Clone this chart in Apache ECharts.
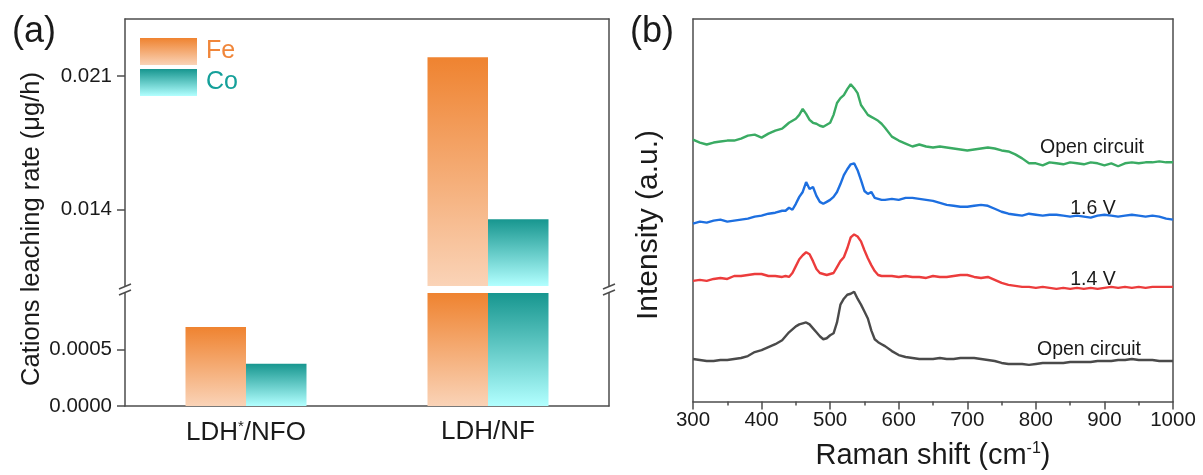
<!DOCTYPE html>
<html>
<head>
<meta charset="utf-8">
<script src="https://cdn.jsdelivr.net/npm/echarts@6/dist/echarts.min.js"></script>
<style>
html, body { margin: 0; padding: 0; background: #fff; }
#chart { width: 1203px; height: 475px; }
</style>
</head>
<body>
<div id="chart"></div>
<script>
// (a) leaching rate
var categories = ['LDH*/NFO', 'LDH/NF'];
var feRate = [0.0007, 0.022];
var coRate = [0.000375, 0.0135];
var upperTicks = [0.014, 0.021];
var lowerTicks = [0, 0.0005];

// (b) Raman spectra, intensity in arbitrary offset units
var ramanShift = [300, 310, 320, 330, 340, 350, 360, 370, 380, 390, 400, 410, 420, 430,
  435, 440, 445, 450, 455, 460, 465, 470, 475, 480, 485, 490, 495, 500, 505, 510, 515, 520,
  525, 530, 535, 540, 545, 550, 555, 560, 565, 570, 575, 580,
  590, 600, 610, 620, 630, 640, 650, 660, 670, 680, 690, 700, 710, 720, 730, 740, 750, 760,
  770, 780, 790, 800, 810, 820, 830, 840, 850, 860, 870, 880, 890, 900, 910, 920, 930, 940,
  950, 960, 970, 980, 990, 1000];
var ocAfter = [265, 262, 260, 262, 263, 264, 264, 266, 269, 270, 267, 271, 274, 276,
  279, 282, 284, 286, 290, 296, 291, 285, 282, 281, 279, 278, 280, 282, 290, 302, 307, 310,
  316, 321, 317, 312, 300, 295, 290, 288, 286, 284, 281, 277,
  268, 264, 261, 258, 260, 258, 257, 258, 257, 256, 255, 254, 255, 256, 257, 256, 254, 253,
  250, 246, 241, 241, 239, 242, 241, 240, 242, 241, 240, 242, 241, 239, 241, 238, 241, 242,
  241, 242, 242, 243, 242, 242];
var v16 = [180, 182, 181, 183, 184, 182, 183, 184, 185, 187, 188, 190, 191, 193,
  193, 196, 194, 200, 207, 212, 222, 215, 217, 208, 202, 200, 202, 204, 207, 212, 220, 229,
  235, 240, 241, 234, 224, 213, 210, 212, 206, 205, 204, 204,
  205, 204, 206, 206, 205, 204, 203, 201, 199, 198, 197, 197, 198, 199, 198, 195, 192, 190,
  189, 188, 190, 189, 188, 189, 189, 188, 187, 188, 187, 186, 188, 189, 188, 187, 188, 189,
  188, 187, 188, 187, 185, 184];
var v14 = [122, 123, 122, 124, 125, 124, 127, 127, 128, 129, 129, 127, 127, 126,
  127, 126, 130, 137, 144, 148, 151, 149, 142, 134, 130, 129, 128, 129, 130, 136, 142, 146,
  155, 166, 169, 167, 162, 153, 145, 138, 132, 128, 127, 127,
  127, 126, 127, 126, 126, 125, 127, 126, 126, 127, 128, 128, 126, 125, 126, 123, 120, 118,
  117, 116, 116, 115, 116, 115, 114, 115, 114, 115, 114, 115, 114, 115, 116, 115, 116, 115,
  116, 115, 116, 116, 116, 116];
var ocBefore = [43, 42, 41, 41, 42, 42, 43, 44, 46, 50, 52, 55, 58, 62,
  66, 70, 73, 76, 78, 79, 80, 78, 74, 70, 66, 63, 64, 67, 69, 80, 98, 104,
  108, 109, 111, 104, 98, 91, 84, 72, 63, 60, 58, 56,
  51, 47, 45, 44, 43, 43, 43, 44, 43, 43, 44, 44, 44, 43, 42, 41, 39, 38,
  38, 38, 37, 38, 39, 39, 39, 39, 40, 40, 40, 40, 41, 41, 41, 42, 42, 43,
  42, 42, 42, 41, 41, 41];

function pairs(xs, ys) {
  return xs.map(function (x, i) { return [x, ys[i]]; });
}

var FONT = '"Liberation Sans", Arial, sans-serif';
var AXIS = '#4d4d4d';
var TXT = '#1a1a1a';

var feColor = new echarts.graphic.LinearGradient(0, 0, 0, 1, [
  { offset: 0, color: '#ef8330' }, { offset: 1, color: '#fad3b7' }]);
var coColor = new echarts.graphic.LinearGradient(0, 0, 0, 1, [
  { offset: 0, color: '#17968f' }, { offset: 1, color: '#b2ffff' }]);

var lineOnly = { show: true, onZero: false, lineStyle: { color: AXIS, width: 1.5 } };

var myChart = echarts.init(document.getElementById('chart'));
var option = {
  animation: false,
  textStyle: { fontFamily: FONT },
  legend: {
    left: 140, top: 38, orient: 'vertical',
    itemWidth: 57, itemHeight: 27, itemGap: 4, padding: 0,
    icon: 'rect',
    selectedMode: false,
    data: [
      { name: 'Fe', textStyle: { color: '#f0863a' } },
      { name: 'Co', textStyle: { color: '#15a09a' } }
    ],
    textStyle: { fontSize: 25, fontFamily: FONT, padding: [0, 0, 0, 4] }
  },
  grid: [
    { left: 125, top: 19, width: 484, height: 267 },
    { left: 125, top: 293, width: 484, height: 113 },
    { left: 693, top: 19, width: 480, height: 387 }
  ],
  xAxis: [
    { type: 'category', gridIndex: 0, data: categories, position: 'top',
      axisLine: lineOnly, axisTick: { show: false }, axisLabel: { show: false } },
    { type: 'category', gridIndex: 1, data: categories, position: 'bottom',
      axisLine: lineOnly, axisTick: { show: false },
      axisLabel: {
        interval: 0, hideOverlap: false,
        margin: 13, fontSize: 26, color: TXT, fontFamily: FONT,
        formatter: function (v) { return v.replace('*', '{sup|*}'); },
        rich: { sup: { fontSize: 15, verticalAlign: 'top', padding: [0, 0, 12, 0], color: TXT, fontFamily: FONT } }
      } },
    { type: 'value', gridIndex: 2, min: 300, max: 1000, interval: 100, position: 'bottom',
      axisLine: lineOnly,
      axisTick: { show: true, inside: false, length: 8, lineStyle: { color: AXIS, width: 1.5 } },
      minorTick: { show: true, splitNumber: 2, length: 4, lineStyle: { color: AXIS, width: 1.5 } },
      splitLine: { show: false },
      axisLabel: { margin: 8, fontSize: 20.5, color: TXT, fontFamily: FONT,
        formatter: function (v) { return String(v); } },
      name: 'Raman shift (cm{sup|-1})', nameLocation: 'middle', nameGap: 39,
      nameTextStyle: { fontSize: 29, color: TXT, fontFamily: FONT,
        rich: { sup: { fontSize: 16, verticalAlign: 'top', padding: [0, 0, 14, 0], color: TXT, fontFamily: FONT } } } },
    { type: 'value', gridIndex: 2, min: 300, max: 1000, position: 'top',
      axisLine: lineOnly, axisTick: { show: false }, axisLabel: { show: false }, splitLine: { show: false } }
  ],
  yAxis: [
    { type: 'value', gridIndex: 0, min: 0.010, max: 0.024, position: 'left',
      axisLine: lineOnly, splitLine: { show: false },
      axisTick: { show: true, inside: false, length: 8, customValues: upperTicks, lineStyle: { color: AXIS, width: 1.5 } },
      axisLabel: { margin: 13, fontSize: 20.5, color: TXT, fontFamily: FONT, customValues: upperTicks,
        formatter: function (v) { return v.toFixed(3); } } },
    { type: 'value', gridIndex: 0, position: 'right',
      axisLine: lineOnly, axisTick: { show: false }, axisLabel: { show: false }, splitLine: { show: false } },
    { type: 'value', gridIndex: 1, min: 0, max: 0.001, position: 'left',
      axisLine: lineOnly, splitLine: { show: false },
      axisTick: { show: true, inside: false, length: 8, customValues: lowerTicks, lineStyle: { color: AXIS, width: 1.5 } },
      axisLabel: { margin: 13, fontSize: 20.5, color: TXT, fontFamily: FONT, customValues: lowerTicks,
        formatter: function (v) { return v.toFixed(4); } } },
    { type: 'value', gridIndex: 1, position: 'right',
      axisLine: lineOnly, axisTick: { show: false }, axisLabel: { show: false }, splitLine: { show: false } },
    { type: 'value', gridIndex: 2, min: 0, max: 387, position: 'left',
      axisLine: lineOnly, axisTick: { show: false }, axisLabel: { show: false }, splitLine: { show: false } },
    { type: 'value', gridIndex: 2, min: 0, max: 387, position: 'right',
      axisLine: lineOnly, axisTick: { show: false }, axisLabel: { show: false }, splitLine: { show: false } }
  ],
  series: [
    { name: 'Fe', type: 'bar', xAxisIndex: 0, yAxisIndex: 0, data: feRate,
      barGap: '0%', barCategoryGap: '50%', itemStyle: { color: feColor } },
    { name: 'Co', type: 'bar', xAxisIndex: 0, yAxisIndex: 0, data: coRate,
      barGap: '0%', barCategoryGap: '50%', itemStyle: { color: coColor } },
    { name: 'Fe', type: 'bar', xAxisIndex: 1, yAxisIndex: 2, data: feRate,
      barGap: '0%', barCategoryGap: '50%', itemStyle: { color: feColor } },
    { name: 'Co', type: 'bar', xAxisIndex: 1, yAxisIndex: 2, data: coRate,
      barGap: '0%', barCategoryGap: '50%', itemStyle: { color: coColor } },
    { name: 'OC after', type: 'line', xAxisIndex: 2, yAxisIndex: 4, data: pairs(ramanShift, ocAfter),
      symbol: 'none', lineStyle: { color: '#3aab63', width: 2.4 } },
    { name: '1.6 V', type: 'line', xAxisIndex: 2, yAxisIndex: 4, data: pairs(ramanShift, v16),
      symbol: 'none', lineStyle: { color: '#1d6fe0', width: 2.4 } },
    { name: '1.4 V', type: 'line', xAxisIndex: 2, yAxisIndex: 4, data: pairs(ramanShift, v14),
      symbol: 'none', lineStyle: { color: '#ec3c3c', width: 2.4 } },
    { name: 'OC before', type: 'line', xAxisIndex: 2, yAxisIndex: 4, data: pairs(ramanShift, ocBefore),
      symbol: 'none', lineStyle: { color: '#4a4a4a', width: 2.4 } }
  ],
  graphic: [
    // panel tags
    { type: 'text', left: 12, top: 14, style: { text: '(a)', font: '36px ' + FONT, fill: TXT } },
    { type: 'text', left: 630, top: 14, style: { text: '(b)', font: '36px ' + FONT, fill: TXT } },
    // axis titles drawn by hand (they sit off the grid centres)
    { type: 'text', x: 32, y: 229, rotation: Math.PI / 2,
      style: { text: 'Cations leaching rate (\u03bcg/h)', font: '25.5px ' + FONT, fill: TXT, align: 'center', verticalAlign: 'middle' } },
    { type: 'text', x: 649, y: 225, rotation: Math.PI / 2,
      style: { text: 'Intensity (a.u.)', font: '30px ' + FONT, fill: TXT, align: 'center', verticalAlign: 'middle' } },
    // axis break marks
    { type: 'rect', shape: { x: 116, y: 286, width: 18, height: 7 }, style: { fill: '#fff' } },
    { type: 'rect', shape: { x: 600, y: 286, width: 18, height: 7 }, style: { fill: '#fff' } },
    { type: 'line', shape: { x1: 119, y1: 289, x2: 131, y2: 284 }, style: { stroke: AXIS, lineWidth: 1.5 } },
    { type: 'line', shape: { x1: 119, y1: 295, x2: 131, y2: 290 }, style: { stroke: AXIS, lineWidth: 1.5 } },
    { type: 'line', shape: { x1: 603, y1: 289, x2: 615, y2: 284 }, style: { stroke: AXIS, lineWidth: 1.5 } },
    { type: 'line', shape: { x1: 603, y1: 295, x2: 615, y2: 290 }, style: { stroke: AXIS, lineWidth: 1.5 } },
    // trace labels of (b)
    { type: 'text', x: 1092, y: 148, style: { text: 'Open circuit', font: '19.5px ' + FONT, fill: TXT, align: 'center', verticalAlign: 'middle' } },
    { type: 'text', x: 1093, y: 209, style: { text: '1.6 V', font: '19.5px ' + FONT, fill: TXT, align: 'center', verticalAlign: 'middle' } },
    { type: 'text', x: 1093, y: 280, style: { text: '1.4 V', font: '19.5px ' + FONT, fill: TXT, align: 'center', verticalAlign: 'middle' } },
    { type: 'text', x: 1089, y: 350, style: { text: 'Open circuit', font: '19.5px ' + FONT, fill: TXT, align: 'center', verticalAlign: 'middle' } }
  ]
};
myChart.setOption(option);
</script>
</body>
</html>
